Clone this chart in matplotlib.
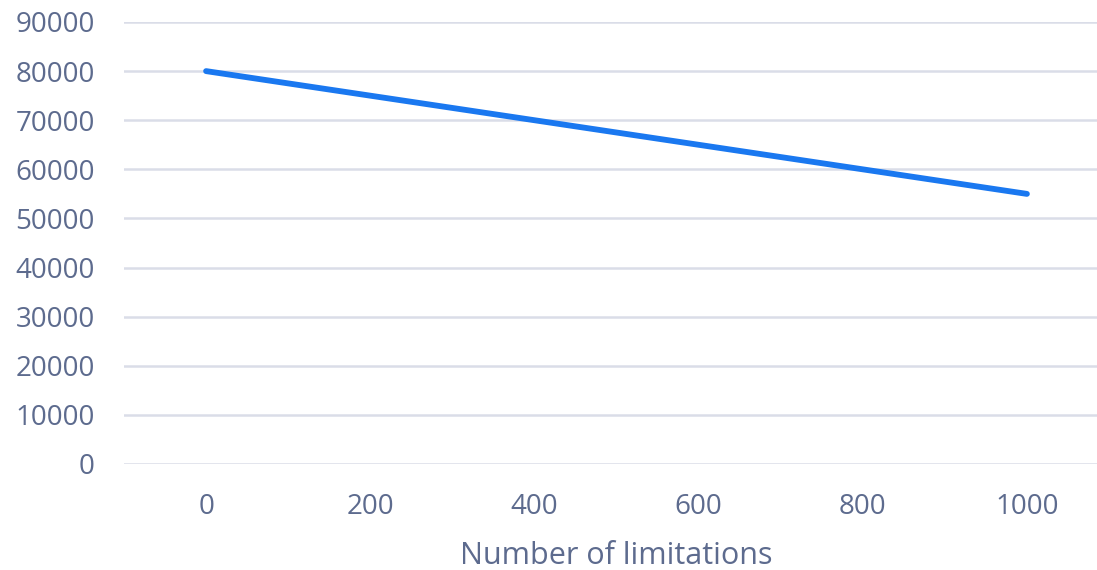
import matplotlib
matplotlib.use('Agg')
import matplotlib.pyplot as plt

# values
limitations = [0, 200, 400, 600, 800, 1000]
values = [80000, 75000, 70000, 65000, 60000, 55000]
x_ticks = [0, 200, 400, 600, 800, 1000]
y_ticks = list(range(0, 90001, 10000))

text_color = '#5D6B8E'
grid_color = '#DADDE8'
line_color = '#1A78F0'

plt.rcParams['font.family'] = ['Open Sans', 'DejaVu Sans']

fig = plt.figure(figsize=(10.97, 5.70), dpi=100)
# axes runs a little past the right edge, like the cropped original
ax = fig.add_axes([124 / 1097, 106 / 570, (1109 - 124) / 1097, 442 / 570])

ax.plot(limitations, values, color=line_color, linewidth=4.2,
        solid_capstyle='round', zorder=3)

ax.set_xlim(-100, 1100)
ax.set_ylim(0, 90000)
ax.set_xticks(x_ticks)
ax.set_yticks(y_ticks)
ax.set_xticklabels([str(v) for v in x_ticks])
ax.set_yticklabels([str(v) for v in y_ticks])

ax.yaxis.grid(True, color=grid_color, linewidth=1.8)
ax.set_axisbelow(True)
for s in ax.spines.values():
    s.set_visible(False)
ax.tick_params(axis='both', length=0, labelsize=20, colors=text_color)
ax.tick_params(axis='y', pad=21)
ax.tick_params(axis='x', pad=21)

ax.set_xlabel('Number of limitations', fontsize=22, color=text_color, labelpad=14)

fig.savefig('out.png', dpi=100)
